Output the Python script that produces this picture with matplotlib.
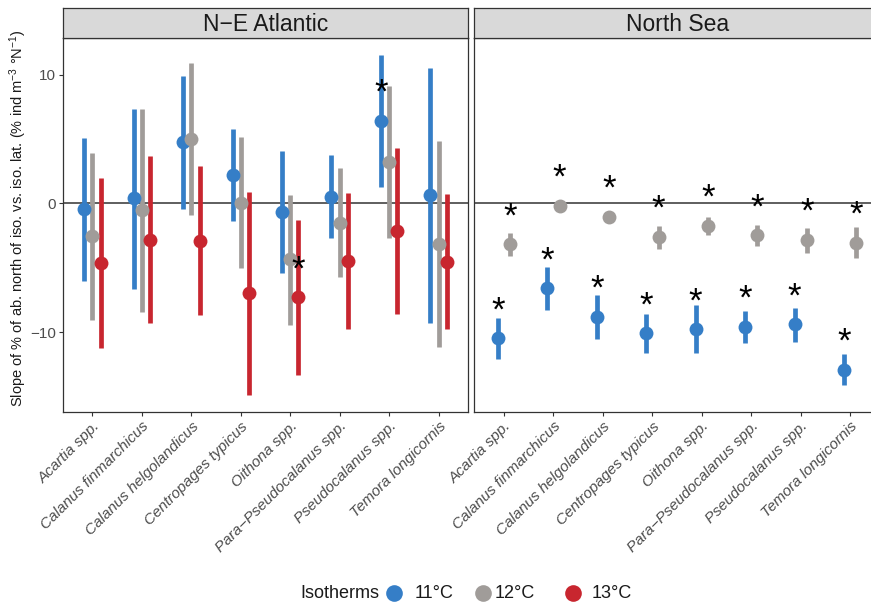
import numpy as np
import matplotlib
matplotlib.use("Agg")
from matplotlib import pyplot as plt
from matplotlib.lines import Line2D

plt.rcParams['font.family'] = ['Liberation Sans', 'DejaVu Sans']
plt.rcParams['mathtext.fontset'] = 'custom'
plt.rcParams['mathtext.rm'] = 'Liberation Sans'
plt.rcParams['mathtext.it'] = 'Liberation Sans:italic'

species = ['Acartia spp.', 'Calanus finmarchicus', 'Calanus helgolandicus',
           'Centropages typicus', 'Oithona spp.', 'Para\u2212Pseudocalanus spp.',
           'Pseudocalanus spp.', 'Temora longicornis']
isotherms = ['11°C', '12°C', '13°C']
colors = ['#357EC7', '#A09C99', '#C8262F']

# N-E Atlantic slopes with lower / upper confidence limits
nea_11_mean = [-0.47, 0.39, 4.79, 2.23, -0.67, 0.52, 6.42, 0.65]
nea_11_low = [-6.03, -6.62, -0.41, -1.37, -5.43, -2.66, 1.29, -9.26]
nea_11_high = [5.10, 7.32, 9.91, 5.77, 4.09, 3.75, 11.51, 10.53]
nea_12_mean = [-2.54, -0.52, 4.97, 0.05, -4.35, -1.50, 3.23, -3.16]
nea_12_low = [-9.06, -8.41, -0.93, -5.05, -9.44, -5.74, -2.72, -11.13]
nea_12_high = [3.88, 7.32, 10.92, 5.17, 0.65, 2.77, 9.13, 4.84]
nea_13_mean = [-4.66, -2.85, -2.90, -6.99, -7.30, -4.45, -2.15, -4.53]
nea_13_low = [-11.25, -9.31, -8.69, -14.88, -13.32, -9.75, -8.59, -9.78]
nea_13_high = [1.99, 3.65, 2.87, 0.91, -1.27, 0.83, 4.27, 0.75]
nea_11_sig = [0, 0, 0, 0, 0, 0, 1, 0]
nea_12_sig = [0, 0, 0, 0, 0, 0, 0, 0]
nea_13_sig = [0, 0, 0, 0, 1, 0, 0, 0]

# North Sea (no 13°C isotherm)
ns_11_mean = [-10.48, -6.60, -8.80, -10.09, -9.78, -9.57, -9.39, -12.94]
ns_11_low = [-12.08, -8.28, -10.50, -11.62, -11.64, -10.82, -10.74, -14.10]
ns_11_high = [-8.93, -4.97, -7.12, -8.56, -7.92, -8.38, -8.12, -11.72]
ns_12_mean = [-3.18, -0.21, -1.03, -2.61, -1.76, -2.48, -2.85, -3.05]
ns_12_low = [-4.09, -0.45, -1.25, -3.52, -2.46, -3.31, -3.83, -4.22]
ns_12_high = [-2.33, 0.03, -0.80, -1.73, -1.03, -1.66, -1.91, -1.81]
ns_11_sig = [1, 1, 1, 1, 1, 1, 1, 1]
ns_12_sig = [1, 1, 1, 1, 1, 1, 1, 1]

star_gap = 2.6
dodge = 0.5
ylim = (-16.23, 12.86)


def draw_panel(ax, series):
    x = np.arange(len(species))
    n = len(series)
    offsets = (np.arange(n) - (n - 1) / 2) * dodge / n
    ax.axhline(0, color='#333333', lw=1.1, zorder=1)
    for off, (mean, low, high, sig, col) in zip(offsets, series):
        xs = x + off
        for xi, lo, hi in zip(xs, low, high):
            ax.plot([xi, xi], [lo, hi], color=col, lw=3.4,
                    solid_capstyle='butt', zorder=2)
        ax.plot(xs, mean, 'o', color=col, ms=10, mec='none', zorder=3)
        for xi, m, s in zip(xs, mean, sig):
            if s:
                # asterisk glyph sits high in its box, so nudge it down
                ax.annotate('*', (xi, m + star_gap), xytext=(0, -4.3),
                            textcoords='offset points', ha='center',
                            va='center', fontsize=25, color='black', zorder=4)
    ax.set_xlim(-0.6, len(species) - 0.4)
    ax.set_ylim(*ylim)
    ax.set_xticks(x)
    ax.set_xticklabels(species, rotation=45, ha='right', va='top',
                       rotation_mode='anchor', style='italic',
                       fontsize=10.5, color='#4D4D4D')
    ax.set_yticks([-10, 0, 10])
    ax.tick_params(length=3, width=0.8, color='#333333',
                   labelcolor='#4D4D4D', labelsize=11, pad=2)
    for sp in ax.spines.values():
        sp.set_color('#333333')
        sp.set_linewidth(0.9)


def draw_strip(fig, rect, title):
    sax = fig.add_axes(rect)
    sax.set_facecolor('#D9D9D9')
    sax.set_xticks([])
    sax.set_yticks([])
    for sp in sax.spines.values():
        sp.set_color('#333333')
        sp.set_linewidth(0.9)
    sax.text(0.5, 0.45, title, ha='center', va='center', fontsize=16.5,
             color='#1A1A1A', transform=sax.transAxes)


fig = plt.figure(figsize=(8.71, 6.03), dpi=100)
W, H = 871, 603
pw = 405.6
bottom = 1 - 412.3 / H
height = (412.3 - 37.7) / H

ax1 = fig.add_axes([62.7 / W, bottom, pw / W, height])
ax2 = fig.add_axes([474.3 / W, bottom, pw / W, height])

draw_panel(ax1, [
    (nea_11_mean, nea_11_low, nea_11_high, nea_11_sig, colors[0]),
    (nea_12_mean, nea_12_low, nea_12_high, nea_12_sig, colors[1]),
    (nea_13_mean, nea_13_low, nea_13_high, nea_13_sig, colors[2]),
])
draw_panel(ax2, [
    (ns_11_mean, ns_11_low, ns_11_high, ns_11_sig, colors[0]),
    (ns_12_mean, ns_12_low, ns_12_high, ns_12_sig, colors[1]),
])
ax2.tick_params(axis='y', left=False, labelleft=False)

strip_b = 1 - 37.7 / H
strip_h = 29.7 / H
draw_strip(fig, [62.7 / W, strip_b, pw / W, strip_h], 'N\u2212E Atlantic')
draw_strip(fig, [474.3 / W, strip_b, pw / W, strip_h], 'North Sea')

fig.text(18 / W, 1 - 218 / H,
         'Slope of % of ab. north of iso. vs. iso. lat. (% ind m$^{-3}$ °N$^{-1}$)',
         rotation=90, ha='center', va='center', fontsize=10.5, color='#1A1A1A')

# legend along the bottom
ly = 1 - 593 / H
fig.text(300 / W, ly, 'Isotherms', ha='left', va='center', fontsize=13,
         color='#1A1A1A')
for cx, tx, lab, col in zip([394.3, 483.3, 573.3], [415, 495, 591.7],
                            isotherms, colors):
    fig.add_artist(Line2D([cx / W], [ly], marker='o', color=col, ms=12,
                          mec='none', transform=fig.transFigure))
    fig.text(tx / W, ly, lab, ha='left', va='center', fontsize=13,
             color='#1A1A1A')

fig.savefig('out.png', dpi=100)
